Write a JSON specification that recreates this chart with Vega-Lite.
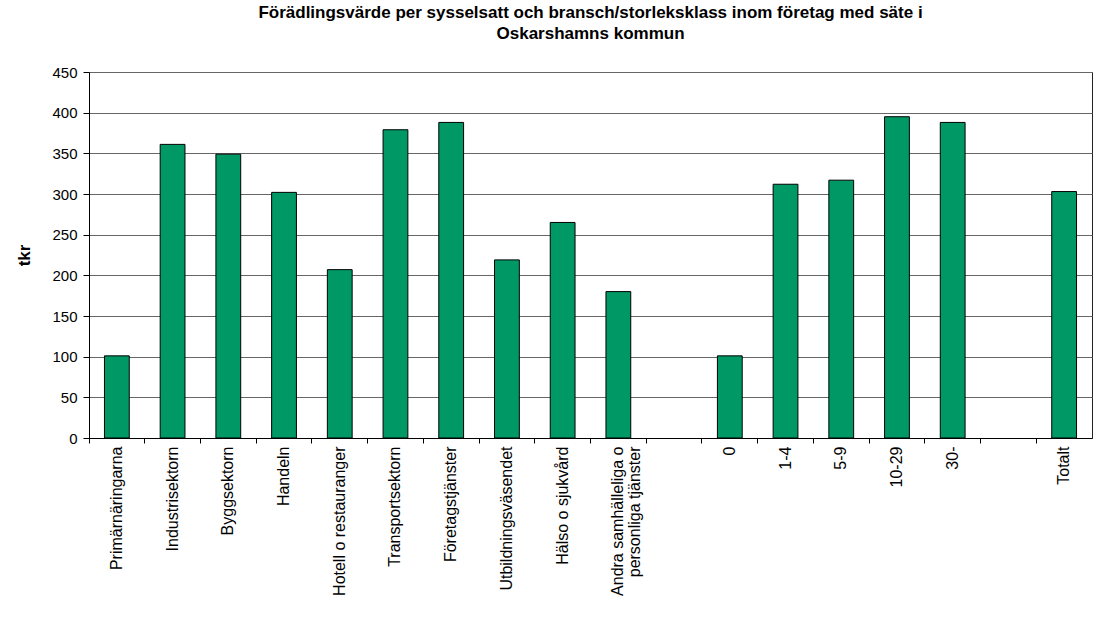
{
  "$schema": "https://vega.github.io/schema/vega-lite/v6.json",
  "padding": {"left": 15, "top": 4, "right": 2, "bottom": 0},
  "width": 1003,
  "height": 366,
  "background": "white",
  "config": {
    "font": "Liberation Sans",
    "view": {"stroke": "#222", "strokeWidth": 1}
  },
  "title": {
    "text": ["Förädlingsvärde per sysselsatt och bransch/storleksklass inom företag med säte i", "Oskarshamns kommun"],
    "fontSize": 17,
    "fontWeight": "bold",
    "font": "Liberation Sans",
    "color": "black",
    "anchor": "middle",
    "lineHeight": 21,
    "offset": 22
  },
  "data": {
    "values": [
      {"kategori": "Primärnäringarna", "varde": 101},
      {"kategori": "Industrisektorn", "varde": 361},
      {"kategori": "Byggsektorn", "varde": 349},
      {"kategori": "Handeln", "varde": 302},
      {"kategori": "Hotell o restauranger", "varde": 207},
      {"kategori": "Transportsektorn", "varde": 379},
      {"kategori": "Företagstjänster", "varde": 388},
      {"kategori": "Utbildningsväsendet", "varde": 219},
      {"kategori": "Hälso o sjukvård", "varde": 265},
      {"kategori": "Andra samhälleliga o personliga tjänster", "varde": 180},
      {"kategori": "tom1", "varde": null},
      {"kategori": "0", "varde": 101},
      {"kategori": "1-4", "varde": 312},
      {"kategori": "5-9", "varde": 317},
      {"kategori": "10-29", "varde": 395},
      {"kategori": "30-", "varde": 388},
      {"kategori": "tom2", "varde": null},
      {"kategori": "Totalt", "varde": 303}
    ]
  },
  "mark": {"type": "bar", "fill": "#009966", "stroke": "black", "strokeWidth": 1, "width": {"band": 0.445}},
  "encoding": {
    "x": {
      "field": "kategori",
      "type": "nominal",
      "sort": null,
      "scale": {
        "domain": ["Primärnäringarna", "Industrisektorn", "Byggsektorn", "Handeln", "Hotell o restauranger", "Transportsektorn", "Företagstjänster", "Utbildningsväsendet", "Hälso o sjukvård", "Andra samhälleliga o personliga tjänster", "tom1", "0", "1-4", "5-9", "10-29", "30-", "tom2", "Totalt"],
        "paddingInner": 0,
        "paddingOuter": 0
      },
      "axis": {
        "title": null,
        "bandPosition": 0,
        "labelAngle": -90,
        "labelAlign": "right",
        "labelBaseline": "middle",
        "labelFontSize": 16,
        "labelColor": "black",
        "labelPadding": 3,
        "labelLimit": 300,
        "labelOverlap": false,
        "labelExpr": "indexof(datum.value, 'tom') == 0 ? '' : (datum.value == 'Andra samhälleliga o personliga tjänster' ? ['Andra samhälleliga o', 'personliga tjänster'] : datum.value)",
        "labelLineHeight": 17,
        "tickColor": "black",
        "tickSize": 5,
        "domainColor": "black",
        "grid": false
      }
    },
    "y": {
      "field": "varde",
      "type": "quantitative",
      "scale": {"domain": [0, 450], "nice": false},
      "axis": {
        "title": "tkr",
        "titleFontSize": 17,
        "titleFontWeight": "bold",
        "titleColor": "black",
        "titlePadding": 18,
        "values": [0, 50, 100, 150, 200, 250, 300, 350, 400, 450],
        "labelFontSize": 15,
        "labelColor": "black",
        "labelPadding": 6,
        "tickSize": 6,
        "tickColor": "black",
        "domainColor": "black",
        "grid": true,
        "gridColor": "#666",
        "gridWidth": 1
      }
    }
  }
}
